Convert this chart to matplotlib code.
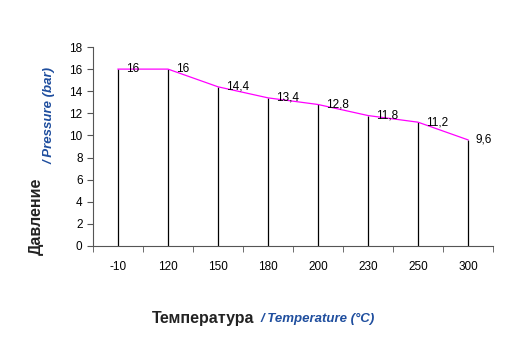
import matplotlib
matplotlib.use("Agg")
import matplotlib.pyplot as plt
import numpy as np

plt.rcParams['font.family'] = ['Liberation Sans', 'DejaVu Sans']

# data
temperatures = ["-10", "120", "150", "180", "200", "230", "250", "300"]
pressures = [16, 16, 14.4, 13.4, 12.8, 11.8, 11.2, 9.6]
y_ticks = [0, 2, 4, 6, 8, 10, 12, 14, 16, 18]

W, H = 506, 343
fig = plt.figure(figsize=(W / 100, H / 100), dpi=100, facecolor="white")
# plot area in pixels: x 93..493, y 47..246
ax = fig.add_axes([93 / W, 1 - 246 / H, 400 / W, 199 / H])

x = np.arange(len(temperatures))
ax.vlines(x, 0, pressures, color="black", linewidth=0.9)
ax.plot(x, pressures, color="#FF00FF", linewidth=0.9)

for xi, p in zip(x, pressures):
    lbl = f"{p:g}".replace(".", ",")
    ax.annotate(lbl, (xi, p), xytext=(5.5, 0), textcoords="offset points",
                ha="left", va="center", fontsize=8.5)

ax.set_xlim(-0.5, len(temperatures) - 0.5)
ax.set_ylim(0, 18)
ax.set_yticks(y_ticks)
ax.set_xticks(x)
ax.set_xticklabels(temperatures)
ax.set_xticks(np.arange(len(temperatures) + 1) - 0.5, minor=True)
ax.tick_params(axis="x", which="major", length=0, pad=11, labelsize=8.5)
ax.tick_params(axis="x", which="minor", length=4, direction="out", color="#555555")
ax.tick_params(axis="y", length=4, direction="out", labelsize=8.5, color="#555555")
for side in ("top", "right"):
    ax.spines[side].set_visible(False)
ax.spines["left"].set_color("#555555")
ax.spines["bottom"].set_color("#555555")

blue = "#1F4E9E"
# x axis title
fig.text(152 / W, 1 - 318 / H, "Температура", fontsize=11.5, fontweight="bold",
         ha="left", va="center", color="#222222")
fig.text(260 / W, 1 - 319 / H, "/ Temperature (°C)", fontsize=9.5, fontweight="bold",
         style="italic", ha="left", va="center", color=blue)
# y axis title
fig.text(36 / W, 1 - 216 / H, "Давление", fontsize=11.5, fontweight="bold",
         rotation=90, ha="center", va="center", color="#222222")
fig.text(50 / W, 1 - 115 / H, "/ Pressure (bar)", fontsize=9.5, fontweight="bold",
         style="italic", rotation=90, ha="center", va="center", color=blue)

fig.savefig("out.png", dpi=100, facecolor="white")
